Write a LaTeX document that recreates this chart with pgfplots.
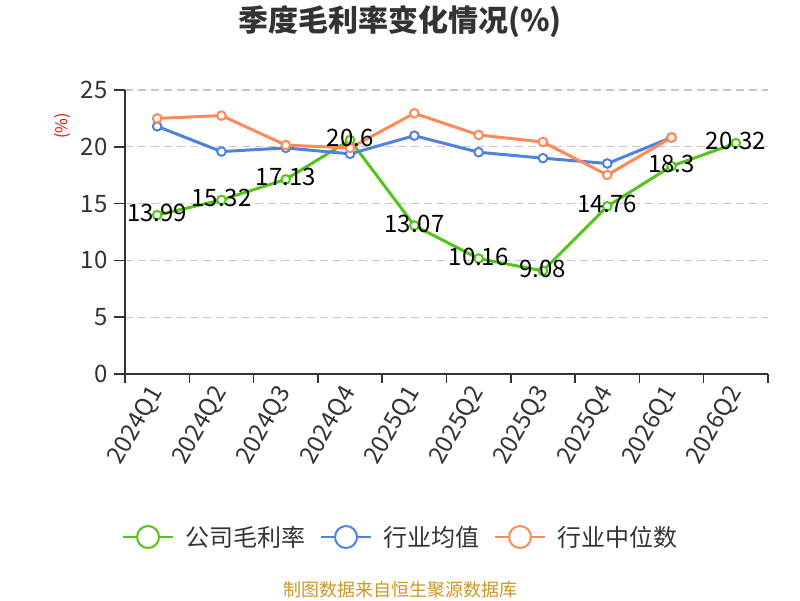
\documentclass[border=0pt]{standalone}
\usepackage{fontspec}
\setmainfont{Noto Sans CJK SC}
\usepackage{pgfplots}
\pgfplotsset{compat=1.18}
\definecolor{cgreen}{RGB}{82,196,26}
\definecolor{cblue}{RGB}{79,129,225}
\definecolor{corange}{RGB}{255,138,88}
\definecolor{ctext}{RGB}{51,51,51}
\definecolor{csrc}{RGB}{204,150,40}
\begin{document}
\begin{tikzpicture}
\useasboundingbox (0pt,0pt) rectangle (800pt,600pt);
\node[font=\fontsize{30}{36}\selectfont\bfseries, text=ctext] at (400pt,578pt) {季度毛利率变化情况(\%)};
\node[rotate=90, text=red, font=\fontsize{16}{18}\selectfont] at (63pt,474pt) {(\%)};
\node[text=csrc, font=\fontsize{18}{20}\selectfont] at (400pt,10pt) {制图数据来自恒生聚源数据库};
\begin{axis}[
  at={(125pt,226pt)}, anchor=south west,
  scale only axis, width=643pt, height=284pt,
  xmin=-0.5, xmax=9.5, ymin=0, ymax=25,
  axis x line*=bottom, axis y line*=left,
  axis line style={ctext, line width=1.5pt},
  ytick={0,5,10,15,20,25},
  ymajorgrids,
  grid style={gray!45, dash pattern=on 8pt off 5pt, line width=1.2pt},
  xtick={0,...,9},
  xticklabels={2024Q1,2024Q2,2024Q3,2024Q4,2025Q1,2025Q2,2025Q3,2025Q4,2026Q1,2026Q2},
  minor xtick={-0.5,0.5,...,9.5},
  major x tick style={draw=none},
  minor x tick style={ctext, line width=1.5pt},
  y tick style={ctext, line width=1.5pt},
  minor tick length=9pt,
  major tick length=11pt,
  tick align=outside,
  /pgf/number format/assume math mode=true,
  ticklabel style={font=\fontsize{24}{26}\selectfont, text=ctext},
  yticklabel style={xshift=-3pt},
  xticklabel style={rotate=60, anchor=east, yshift=-2pt},
  clip=false,
  legend style={at={(0.4285,-0.574)}, anchor=center, draw=none, fill=none,
    legend columns=3, font=\fontsize{24}{26}\selectfont, text=ctext,
    /tikz/every odd column/.append style={column sep=9pt},
    /tikz/every even column/.append style={column sep=13pt}},
  legend image code/.code={\draw[line width=2pt] (0pt,0pt) -- (50pt,0pt);
    \draw[line width=2pt, fill=white] (25pt,0pt) circle (11pt);},
  every axis plot/.append style={line width=3pt, mark=*, mark size=4.3pt,
    mark options={fill=white, line width=2pt}},
]
\addplot[cgreen] coordinates {(0,13.99) (1,15.32) (2,17.13) (3,20.6) (4,13.07) (5,10.16) (6,9.08) (7,14.76) (8,18.3) (9,20.32)};
\addlegendentry{公司毛利率}
\addplot[cblue] coordinates {(0,21.8) (1,19.58) (2,19.9) (3,19.38) (4,20.98) (5,19.52) (6,19.0) (7,18.53) (8,20.82)};
\addlegendentry{行业均值}
\addplot[corange] coordinates {(0,22.5) (1,22.75) (2,20.15) (3,19.9) (4,22.95) (5,21.04) (6,20.42) (7,17.52) (8,20.82)};
\addlegendentry{行业中位数}
\addplot[draw=none, mark=none, forget plot, nodes near coords, point meta=explicit symbolic,
  every node near coord/.append style={anchor=center, yshift=2pt, text=black, font=\fontsize{24}{26}\selectfont}]
  coordinates {(0,13.99) [13.99] (1,15.32) [15.32] (2,17.13) [17.13] (3,20.6) [20.6] (4,13.07) [13.07] (5,10.16) [10.16] (6,9.08) [9.08] (7,14.76) [14.76] (8,18.3) [18.3] (9,20.32) [20.32]};
\end{axis}
\end{tikzpicture}
\end{document}
